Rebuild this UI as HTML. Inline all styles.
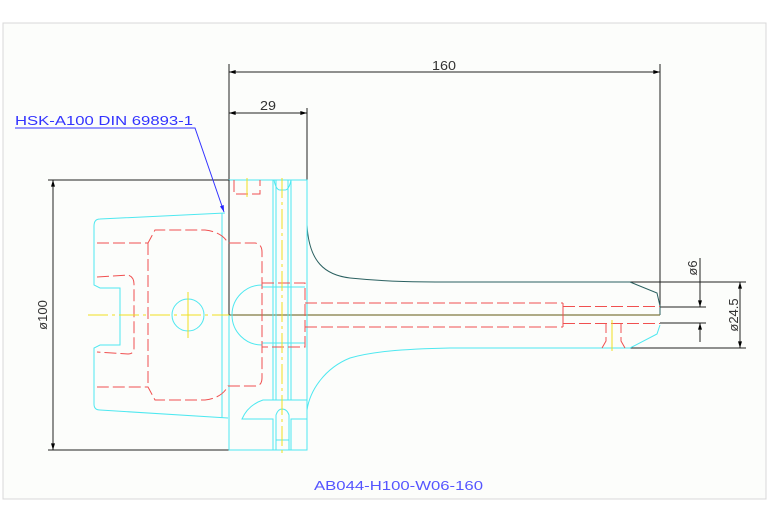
<!DOCTYPE html>
<html><head><style>
html,body{margin:0;padding:0;background:#fff;}
svg{display:block;}
text{font-family:"Liberation Sans",sans-serif;}
</style></head><body>
<svg width="767" height="523" viewBox="0 0 767 523" xmlns="http://www.w3.org/2000/svg">
<defs>
<marker id="a" viewBox="0 0 10 6" refX="10" refY="3" markerWidth="10" markerHeight="4" orient="auto-start-reverse" markerUnits="userSpaceOnUse"><path d="M0,0 L10,3 L0,6z" fill="#000"/></marker>
<marker id="b" viewBox="0 0 10 6" refX="10" refY="3" markerWidth="8" markerHeight="4" orient="auto" markerUnits="userSpaceOnUse"><path d="M0,0 L10,3 L0,6z" fill="#22f"/></marker>
</defs>
<rect x="3" y="23" width="763" height="476" fill="#fcfdfb" stroke="#d8d8d8"/>

<g stroke="#222" stroke-width="1" fill="none">
<line x1="229" y1="64" x2="229" y2="315"/>
<line x1="660" y1="64" x2="660" y2="315"/>
<line x1="307" y1="108" x2="307" y2="180"/>
<line x1="229" y1="72" x2="660" y2="72" marker-start="url(#a)" marker-end="url(#a)"/>
<line x1="229" y1="113" x2="307" y2="113" marker-start="url(#a)" marker-end="url(#a)"/>
<line x1="48" y1="180" x2="307" y2="180"/>
<line x1="48" y1="450" x2="229" y2="450"/>
<line x1="53" y1="180" x2="53" y2="450" marker-start="url(#a)" marker-end="url(#a)"/>
<line x1="630" y1="282" x2="746" y2="282"/>
<line x1="630" y1="348" x2="746" y2="348"/>
<line x1="660" y1="307" x2="706" y2="307"/>
<line x1="660" y1="323" x2="706" y2="323"/>
<line x1="700" y1="258" x2="700" y2="307" marker-end="url(#a)"/>
<line x1="700" y1="342" x2="700" y2="323" marker-end="url(#a)"/>
<line x1="740" y1="282" x2="740" y2="348" marker-start="url(#a)" marker-end="url(#a)"/>
</g>
<text x="432" y="70" font-size="13" fill="#333" textLength="24" lengthAdjust="spacingAndGlyphs">160</text>
<text x="260" y="110" font-size="13" fill="#333" textLength="16" lengthAdjust="spacingAndGlyphs">29</text>
<text transform="translate(47,315) rotate(-90)" font-size="13" fill="#333" text-anchor="middle">ø100</text>
<text transform="translate(697,268) rotate(-90)" font-size="13" fill="#333" text-anchor="middle">ø6</text>
<text transform="translate(738,315) rotate(-90)" font-size="13" fill="#333" text-anchor="middle">ø24.5</text>

<text x="15" y="125" font-size="13" fill="#33f" textLength="178" lengthAdjust="spacingAndGlyphs">HSK-A100 DIN 69893-1</text>
<polyline points="15,128 195,128 224,212" fill="none" stroke="#33f" marker-end="url(#b)"/>
<text x="314" y="490" font-size="13" fill="#55f" textLength="169" lengthAdjust="spacingAndGlyphs">AB044-H100-W06-160</text>

<path d="M307,180 L307,225 C309,262 325,275 350,278 C390,282 420,282 450,282 L630,282 L657,293 L660,306 L660,315" fill="none" stroke="#2a6060" stroke-width="1"/>
<line x1="229" y1="315" x2="660" y2="315" stroke="#807a40" stroke-width="1.2"/>

<g stroke="#4ee8f0" stroke-width="1" fill="none">
<path d="M660,325 L657,334 L630,348 L450,348 C400,349 370,352 350,358 C325,368 310,390 307,410"/>
<path d="M225,213 L100,219 Q94,219 94,226 L94,285 L100,288 L120,288 L120,345 L100,345 L94,348 L94,404 Q94,410 100,410 L228,418"/>
<line x1="222" y1="213" x2="222" y2="418"/>
<rect x="229" y="180" width="78" height="270"/>
<path d="M262,285 A30,30 0 0 0 262,345"/>
<line x1="262" y1="287" x2="305" y2="287"/>
<line x1="262" y1="343" x2="305" y2="343"/>
<circle cx="188" cy="315" r="16"/>
<line x1="273" y1="180" x2="273" y2="400"/><line x1="276" y1="180" x2="276" y2="400"/>
<line x1="288" y1="180" x2="288" y2="400"/><line x1="291" y1="180" x2="291" y2="400"/>
<path d="M274,180 Q276,190 280,190 L285,190 Q289,190 291,180"/>
<path d="M307,400 L263,400 Q248,405 242,419 L273,419 L273,450 M307,419 L291,419 L291,450"/>
<path d="M276,450 L276,415 Q278,409 282,409 Q287,409 289,415 L289,450"/>
<line x1="276" y1="440" x2="289" y2="440"/>
</g>
<line x1="229" y1="180" x2="229" y2="315" stroke="#222"/>

<g stroke="#f05050" stroke-width="1" fill="none" stroke-dasharray="12,4">
<path d="M97,243 L148,243 L155,230 L205,230 Q222,232 228,243 L255,243 Q262,244 262,252 L262,378 Q262,386 255,386 L228,386 Q222,398 205,400 L155,400 L148,387 L97,387"/>
<path d="M97,277 L128,275 Q134,277 134,284 L134,348 Q134,354 128,354 L97,352"/>
<line x1="148" y1="243" x2="148" y2="387"/>
<path d="M234,180 L234,194 L260,194 L260,180"/>
<rect x="262" y="283" width="43" height="64"/>
<line x1="305" y1="303" x2="563" y2="303"/>
<line x1="305" y1="327" x2="563" y2="327"/>
<line x1="563" y1="303" x2="563" y2="327" stroke-dasharray="none"/>
<line x1="563" y1="306.5" x2="660" y2="306.5"/>
<line x1="563" y1="323.5" x2="660" y2="323.5"/>
<path d="M602,348 L606,341 L606,323 M625,348 L621,341 L621,323" />
</g>

<g stroke="#f0e020" stroke-width="1" fill="none" stroke-dasharray="20,4,3,4">
<line x1="88" y1="315" x2="229" y2="315"/>
<line x1="188" y1="292" x2="188" y2="338" stroke-dasharray="none"/>
<line x1="282" y1="178" x2="282" y2="455"/>
<line x1="247" y1="178" x2="247" y2="197"/>
<line x1="612" y1="320" x2="612" y2="351" stroke-dasharray="none"/>
</g>
</svg>
</body></html>
